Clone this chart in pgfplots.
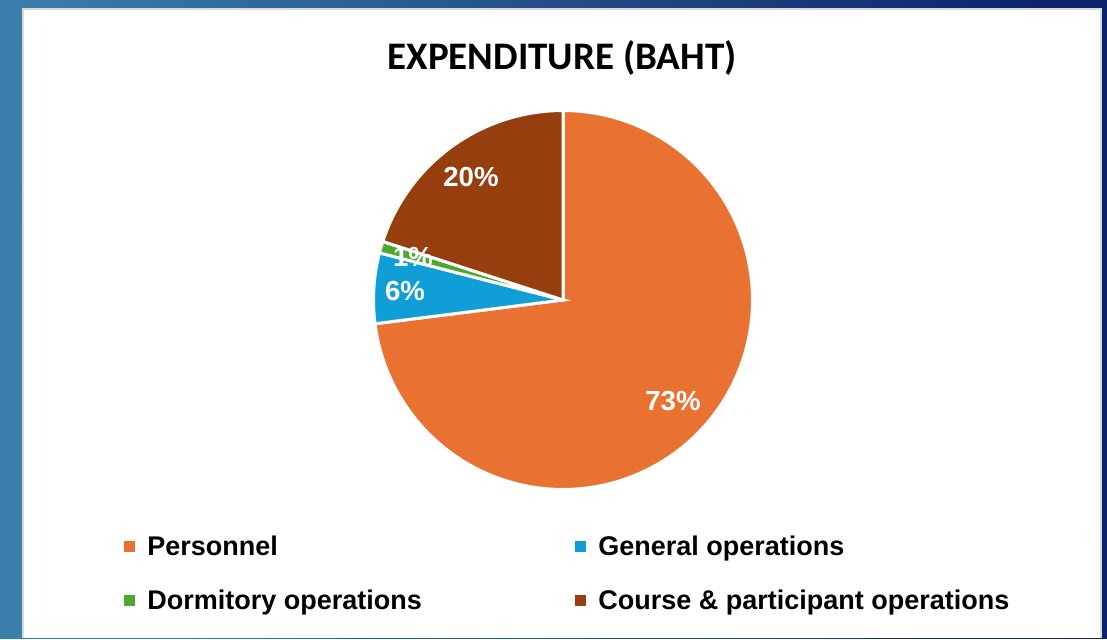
\documentclass[border=0pt]{standalone}
\usepackage{pgfplots}
\pgfplotsset{compat=1.18}
\usepackage{pgfplotstable}
\usepackage{fontspec}
\setmainfont{Liberation Sans}
\newfontfamily\titlefont{Carlito}

\definecolor{cPers}{HTML}{E97132}
\definecolor{cGen}{HTML}{0F9ED5}
\definecolor{cDorm}{HTML}{4EA72E}
\definecolor{cCourse}{HTML}{973E0F}
\definecolor{bgL}{HTML}{3B80AD}
\definecolor{bgR}{HTML}{0B2169}

% share of expenditure, percent
\pgfplotstableread{
label value
Personnel 73
General 6
Dormitory 1
Course 20
}\expdata

\pgfplotstablegetelem{0}{value}\of\expdata \let\vA\pgfplotsretval
\pgfplotstablegetelem{1}{value}\of\expdata \let\vB\pgfplotsretval
\pgfplotstablegetelem{2}{value}\of\expdata \let\vC\pgfplotsretval
\pgfplotstablegetelem{3}{value}\of\expdata \let\vD\pgfplotsretval
% slices run clockwise from 12 o'clock
\pgfmathsetmacro\aA{90}
\pgfmathsetmacro\aB{\aA-3.6*\vA}
\pgfmathsetmacro\aC{\aB-3.6*\vB}
\pgfmathsetmacro\aD{\aC-3.6*\vC}
\pgfmathsetmacro\aE{\aD-3.6*\vD}

\def\cx{563}
\def\cy{338}
\def\rr{189.5}

\begin{document}
\begin{tikzpicture}
\begin{axis}[
  width=553.5pt, height=319pt, scale only axis,
  xmin=0, xmax=1107, ymin=0, ymax=638,
  hide axis, clip=false,
]
% backdrop and white panel
\shade[left color=bgL, right color=bgR, shading angle=95] (axis cs:0,0) rectangle (axis cs:1107,638);
\fill[white] (axis cs:23,0) rectangle (axis cs:1101,629);
\draw[black!15, line width=1pt] (axis cs:23,0) -- (axis cs:23,629) -- (axis cs:1101,629) -- (axis cs:1101,0);

\addplot[fill=cPers, draw=white, line width=1.5pt, domain=\aB:\aA, samples=120]
  ({\cx+\rr*cos(x)},{\cy+\rr*sin(x)}) -- (axis cs:\cx,\cy) -- cycle;
\addplot[fill=cGen, draw=white, line width=1.5pt, domain=\aC:\aB, samples=20]
  ({\cx+\rr*cos(x)},{\cy+\rr*sin(x)}) -- (axis cs:\cx,\cy) -- cycle;
\addplot[fill=cDorm, draw=white, line width=1.5pt, domain=\aD:\aC, samples=8]
  ({\cx+\rr*cos(x)},{\cy+\rr*sin(x)}) -- (axis cs:\cx,\cy) -- cycle;
\addplot[fill=cCourse, draw=white, line width=1.5pt, domain=\aE:\aD, samples=40]
  ({\cx+\rr*cos(x)},{\cy+\rr*sin(x)}) -- (axis cs:\cx,\cy) -- cycle;

% data labels
\begin{scope}[every node/.style={text=white, font=\fontsize{13.8}{16}\selectfont\bfseries}]
\node at (axis cs:673,237) {\vA\%};
\node at (axis cs:405,347) {\vB\%};
\node at (axis cs:413,381) {\vC\%};
\node at (axis cs:471,461) {\vD\%};
\end{scope}

% title
\node[anchor=base, font=\titlefont\fontsize{19.5}{22}\selectfont\bfseries] at (axis cs:562,569) {EXPENDITURE (BAHT)};

% legend
\begin{scope}[every node/.style={anchor=base west, inner sep=0pt, font=\fontsize{13.5}{16}\selectfont\bfseries}]
\fill[cPers] (axis cs:124,86) rectangle (axis cs:135,97);
\node at (axis cs:147,83) {Personnel};
\fill[cGen] (axis cs:575,86) rectangle (axis cs:586,97);
\node at (axis cs:598,83) {General operations};
\fill[cDorm] (axis cs:124,32) rectangle (axis cs:135,43);
\node at (axis cs:147,29) {Dormitory operations};
\fill[cCourse] (axis cs:575,32) rectangle (axis cs:586,43);
\node at (axis cs:598,29) {Course \& participant operations};
\end{scope}
\end{axis}
\end{tikzpicture}
\end{document}
